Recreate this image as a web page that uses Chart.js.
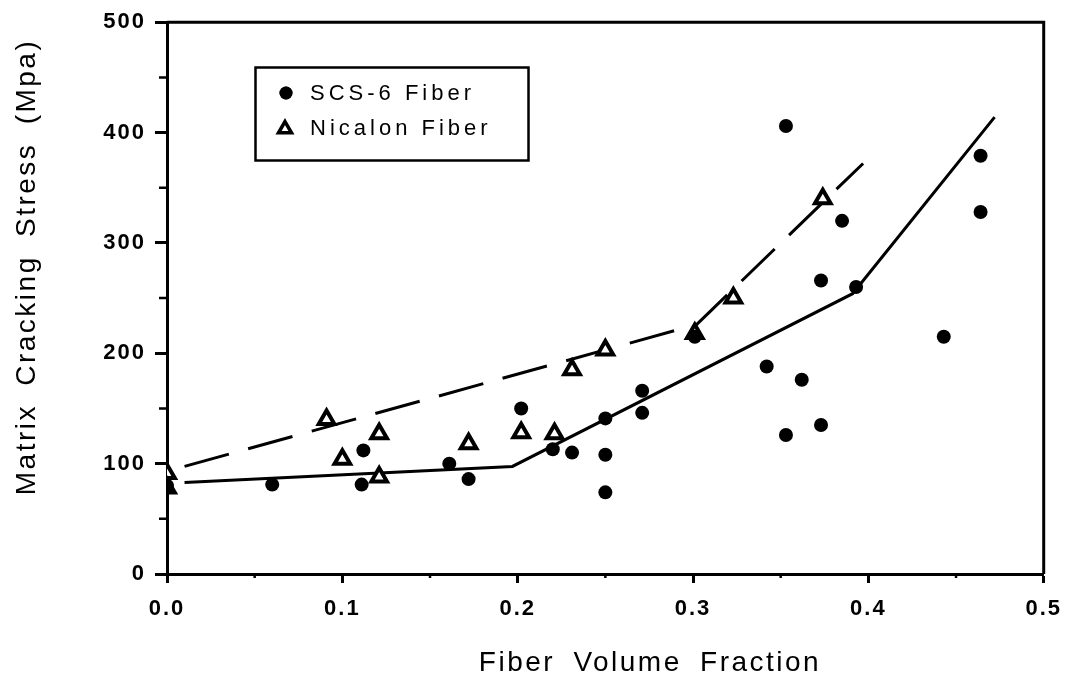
<!DOCTYPE html>
<html>
<head>
<meta charset="utf-8">
<script src="https://cdn.jsdelivr.net/npm/chart.js@4/dist/chart.umd.min.js"></script>
<style>
  html, body { margin: 0; padding: 0; background: #ffffff; }
  #wrap { width: 1072px; height: 694px; }
</style>
</head>
<body>
<div id="wrap"><canvas id="c" width="1072" height="694"></canvas></div>
<script>
// Axis ticks
const xTickValues = [0, 0.1, 0.2, 0.3, 0.4, 0.5];
const yTickValues = [0, 100, 200, 300, 400, 500];
const xMinorTicks = [0.05, 0.15, 0.25, 0.35, 0.45];
const yMinorTicks = [50, 150, 250, 350, 450];

// SCS-6 fiber measurements
const scsX = [0, 0.06, 0.111, 0.112, 0.161, 0.172, 0.202, 0.22, 0.231, 0.25, 0.25, 0.25,
              0.271, 0.271, 0.301, 0.342, 0.353, 0.353, 0.362, 0.373, 0.373, 0.385, 0.393,
              0.443, 0.464, 0.464];
const scsY = [80, 81, 81, 112, 100, 86, 150, 113, 110, 141, 108, 74,
              166, 146, 215, 188, 406, 126, 176, 266, 135, 320, 260,
              215, 379, 328];

// Nicalon fiber measurements
const nicX = [0, 0, 0.091, 0.1, 0.121, 0.121, 0.172, 0.202, 0.221, 0.231, 0.25, 0.301, 0.323, 0.374];
const nicY = [91, 78, 140, 104, 127, 88, 118, 128, 127, 185, 203, 218, 250, 340];

// Model curves
const scsFitX = [0.01, 0.197, 0.391, 0.472];
const scsFitY = [83, 97.5, 254, 414];
const nicFitX = [0.01, 0.302, 0.397];
const nicFitY = [97.5, 226, 372];

const xTitle = 'Fiber Volume Fraction';
const yTitle = 'Matrix Cracking Stress (Mpa)';
const scsLabel = 'SCS-6 Fiber';
const nicLabel = 'Nicalon Fiber';

const FONT = '"Liberation Sans", Arial, Helvetica, sans-serif';
const toPoints = (xs, ys) => xs.map((x, i) => ({ x: x, y: ys[i] }));

const scsStyle = { pointStyle: 'circle', radius: 7, backgroundColor: '#000', borderColor: '#000', borderWidth: 0 };
const nicStyle = { pointStyle: 'triangle', radius: 9, backgroundColor: '#fff', borderColor: '#000', borderWidth: 4 };

// Wide-set lettering for the tick labels
const spacingPlugin = {
  id: 'spacing',
  beforeDraw(chart) { chart.ctx.letterSpacing = '2px'; }
};

// Closed frame, minor ticks, axis titles and the boxed key
const decorPlugin = {
  id: 'decor',
  beforeDatasetsDraw(chart) {
    const { ctx, chartArea: a, scales } = chart;
    ctx.save();
    ctx.strokeStyle = '#000';
    ctx.lineWidth = 3;
    ctx.beginPath();
    ctx.moveTo(a.left, a.top);
    ctx.lineTo(a.right, a.top);
    ctx.lineTo(a.right, a.bottom);
    ctx.stroke();
    ctx.lineWidth = 2.5;
    ctx.beginPath();
    yMinorTicks.forEach(v => {
      const y = scales.y.getPixelForValue(v);
      ctx.moveTo(a.left - 8, y); ctx.lineTo(a.left, y);
    });
    xMinorTicks.forEach(v => {
      const x = scales.x.getPixelForValue(v);
      ctx.moveTo(x, a.bottom); ctx.lineTo(x, a.bottom + 4);
    });
    ctx.stroke();
    ctx.restore();
  },
  afterDraw(chart) {
    const ctx = chart.ctx;
    ctx.save();
    ctx.fillStyle = '#000';
    ctx.letterSpacing = '2.5px';
    ctx.wordSpacing = '8px';
    ctx.font = '28px ' + FONT;
    ctx.textAlign = 'center';
    ctx.textBaseline = 'alphabetic';
    ctx.fillText(xTitle, 650, 671);
    ctx.save();
    ctx.translate(35, 267);
    ctx.rotate(-Math.PI / 2);
    ctx.fillText(yTitle, 0, 0);
    ctx.restore();
    ctx.wordSpacing = '0px';

    // key
    ctx.strokeStyle = '#000';
    ctx.lineWidth = 2.5;
    ctx.strokeRect(255.5, 67.5, 273, 93);
    Chart.helpers.drawPoint(ctx, { pointStyle: 'circle', radius: 6.5, borderWidth: 0 }, 286, 93);
    ctx.fillStyle = '#000';
    ctx.fill();
    ctx.fillStyle = '#fff';
    ctx.strokeStyle = '#000';
    ctx.lineWidth = 3.5;
    Chart.helpers.drawPoint(ctx, { pointStyle: 'triangle', radius: 7.5, borderWidth: 3.5 }, 285, 129);
    ctx.fillStyle = '#000';
    ctx.font = '22px ' + FONT;
    ctx.letterSpacing = '4px';
    ctx.textAlign = 'left';
    ctx.fillText(scsLabel, 310, 100);
    ctx.fillText(nicLabel, 310, 135);
    ctx.restore();
  }
};

new Chart(document.getElementById('c'), {
  type: 'scatter',
  data: {
    datasets: [
      {
        label: scsLabel,
        data: toPoints(scsX, scsY),
        pointStyle: scsStyle.pointStyle,
        pointRadius: scsStyle.radius,
        pointBackgroundColor: scsStyle.backgroundColor,
        pointBorderColor: scsStyle.borderColor,
        pointBorderWidth: scsStyle.borderWidth,
        showLine: false,
        order: 0
      },
      {
        label: nicLabel,
        data: toPoints(nicX, nicY),
        pointStyle: nicStyle.pointStyle,
        pointRadius: nicStyle.radius,
        pointBackgroundColor: nicStyle.backgroundColor,
        pointBorderColor: nicStyle.borderColor,
        pointBorderWidth: nicStyle.borderWidth,
        showLine: false,
        order: 0
      },
      {
        label: 'SCS-6 model',
        data: toPoints(scsFitX, scsFitY),
        showLine: true,
        borderColor: '#000',
        borderWidth: 3,
        pointRadius: 0,
        tension: 0,
        order: 1
      },
      {
        label: 'Nicalon model',
        data: toPoints(nicFitX, nicFitY),
        showLine: true,
        borderColor: '#000',
        borderWidth: 3,
        borderDash: [46, 20],
        pointRadius: 0,
        tension: 0,
        order: 1
      }
    ]
  },
  options: {
    responsive: false,
    animation: false,
    devicePixelRatio: 1,
    layout: { padding: { top: 15, right: 28, left: 0, bottom: 0 } },
    plugins: {
      legend: { display: false },
      tooltip: { enabled: false }
    },
    scales: {
      x: {
        type: 'linear',
        min: 0,
        max: 0.5,
        afterFit: s => { s.height = 120; },
        afterBuildTicks: s => { s.ticks = xTickValues.map(v => ({ value: v })); },
        border: { display: true, color: '#000', width: 3 },
        grid: { drawOnChartArea: false, drawTicks: true, tickLength: 9, tickColor: '#000', tickWidth: 3 },
        ticks: {
          color: '#000',
          padding: 13,
          font: { family: FONT, size: 22, weight: 'bold' },
          callback: v => Number(v).toFixed(1)
        }
      },
      y: {
        type: 'linear',
        min: 0,
        max: 500,
        afterFit: s => { s.width = 167; },
        afterBuildTicks: s => { s.ticks = yTickValues.map(v => ({ value: v })); },
        border: { display: true, color: '#000', width: 3 },
        grid: { drawOnChartArea: false, drawTicks: true, tickLength: 12, tickColor: '#000', tickWidth: 3 },
        ticks: {
          color: '#000',
          padding: 9,
          font: { family: FONT, size: 22, weight: 'bold' },
          callback: v => String(v)
        }
      }
    }
  },
  plugins: [spacingPlugin, decorPlugin]
});
</script>
</body>
</html>
